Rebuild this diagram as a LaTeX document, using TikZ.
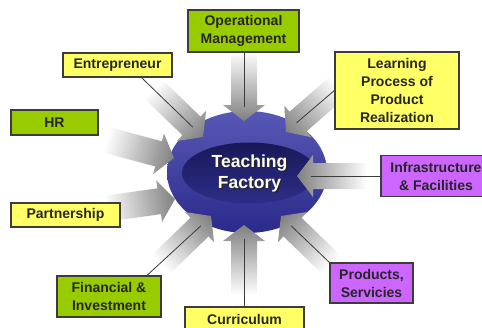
\documentclass[tikz,border=0pt]{standalone}
\usepackage{fontspec}
\setmainfont{Liberation Sans}
\usetikzlibrary{calc}
\definecolor{boxgreen}{RGB}{153,204,0}
\definecolor{boxyellow}{RGB}{255,255,102}
\definecolor{boxpurple}{RGB}{204,102,255}
\definecolor{ringtop}{RGB}{88,88,182}
\definecolor{ringbot}{RGB}{42,42,138}
\definecolor{coretop}{RGB}{24,24,88}
\definecolor{corebot}{RGB}{46,46,136}
\definecolor{edge}{RGB}{60,60,60}

\begin{document}
\begin{tikzpicture}[x=1pt,y=-1pt,
	label box/.style={draw=edge,line width=1.2pt,font=\bfseries\fontsize{14}{18}\selectfont,align=center,inner sep=0pt,text=black!85},
	green box/.style={label box,fill=boxgreen},
	yellow box/.style={label box,fill=boxyellow},
	purple box/.style={label box,fill=boxpurple},
	link/.style={draw=edge,line width=0.8pt},
	core text/.style={font=\bfseries\fontsize{17.5}{21}\selectfont,align=center}]
	\useasboundingbox (0,0) rectangle (482,327) ;
	\clip (0,0) rectangle (482,327) ;
	% the disc
	\shade[top color=ringtop,bottom color=ringbot] (247,172) ellipse (80 and 61) ;
	\shade[top color=coretop,bottom color=corebot] (249.5,173) ellipse (67.5 and 30.5) ;
	% the arrows
	\foreach \nm/\tx/\ty/\ang in {opm/244/121/90, ent/203/137/44, hr/174/158/15, part/175/199/-8, fin/211/216/-44, cur/244/225/-90, prod/281/216/224, infra/297/176/180, learn/286/132/139}{
		\coordinate (\nm-tip) at (\tx,\ty) ;
		\coordinate (\nm-in) at ($(\nm-tip)+(\ang+180:14)$) ;
		\begin{scope}[transform canvas={shift={(\tx,\ty)},rotate=-\ang}]
			\shade[left color=white,middle color=gray!70,right color=gray] (-70,-13) -- (-16,-13) -- (-16,-21) -- (0,0) -- (-16,21) -- (-16,13) -- (-70,13) -- cycle ;
		\end{scope}
	}
	% the boxes
	\node[green box,minimum width=111pt,minimum height=42pt] (opm) at (243.5,31) {Operational\\Management} ;
	\node[yellow box,minimum width=109pt,minimum height=24pt] (ent) at (117.5,65) {Entrepreneur} ;
	\node[green box,minimum width=87pt,minimum height=25pt] (hr) at (54.5,122.5) {HR} ;
	\node[yellow box,minimum width=124pt,minimum height=77pt] (learn) at (397,90.5) {Learning\\Process of\\Product\\Realization} ;
	\node[purple box,minimum width=110pt,minimum height=41pt] (infra) at (436,176) {Infrastructure\\\& Facilities} ;
	\node[yellow box,minimum width=109pt,minimum height=24pt] (part) at (65.5,215) {Partnership} ;
	\node[green box,minimum width=104pt,minimum height=41pt] (fin) at (109,296.5) {Financial \&\\Investment} ;
	\node[yellow box,minimum width=119pt,minimum height=24pt] (cur) at (244.5,319) {Curriculum} ;
	\node[purple box,minimum width=83pt,minimum height=40pt] (prod) at (371.5,283) {Products,\\Servicies} ;
	% the links
	\draw[link] (opm-in |- opm.south) -- (opm-in) ;
	\draw[link] ([xshift=24pt]ent.south) -- (ent-in) ;
	\draw[link] (learn.west) -- (learn-in) ;
	\draw[link] (infra.west) -- (infra-in) ;
	\draw[link] (prod.north west) -- (prod-in) ;
	\draw[link] (cur-in |- cur.north) -- (cur-in) ;
	\draw[link] ([xshift=38pt]fin.north) -- (fin-in) ;
	% the title
	\node[core text,text=black!85] (tf-shadow) at (251,174.5) {Teaching\\Factory} ;
	\node[core text,text=white] (tf) at (249.5,173) {Teaching\\Factory} ;
\end{tikzpicture}
\end{document}
